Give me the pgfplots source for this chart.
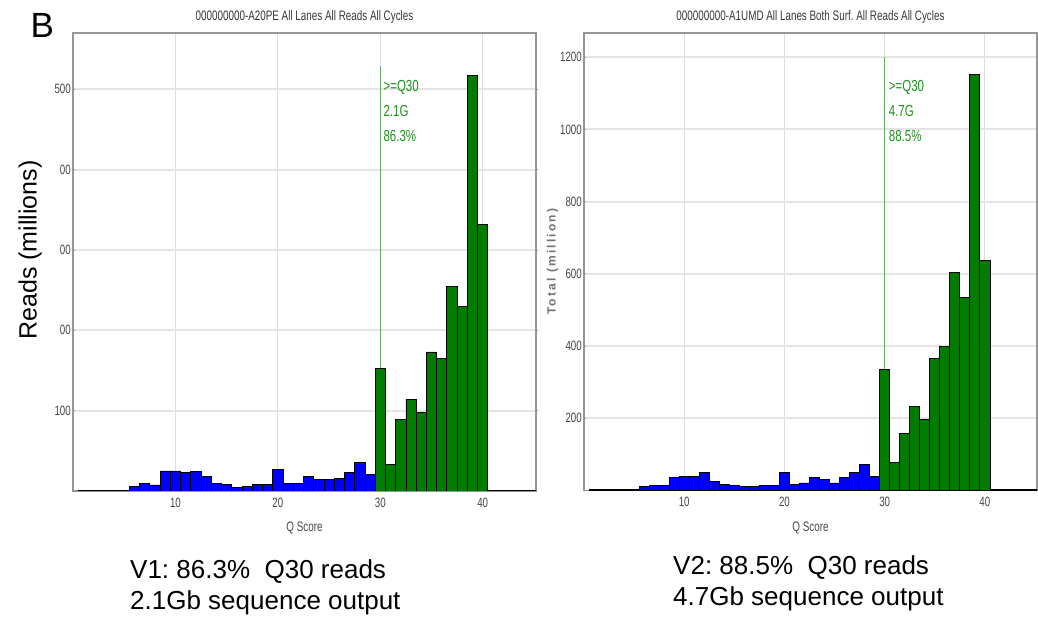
\documentclass[border=0pt]{standalone}
\usepackage{fontspec}
\setmainfont{Liberation Sans}
\newfontfamily\narrowfont[FakeStretch=0.72]{Liberation Sans}
\newfontfamily\spacedfont[LetterSpace=18]{Liberation Sans}
\usepackage{pgfplots}
\pgfplotsset{compat=1.18}
\frenchspacing

\definecolor{qblue}{RGB}{0,0,255}
\definecolor{qgreen}{RGB}{0,125,0}
\definecolor{qtext}{RGB}{30,145,30}
\definecolor{qline}{RGB}{95,175,95}
\definecolor{framegray}{RGB}{150,150,150}
\definecolor{gridx}{RGB}{222,222,222}
\definecolor{gridy}{RGB}{228,228,228}
\definecolor{labelgray}{RGB}{70,70,70}
\definecolor{titlegray}{RGB}{55,55,55}
\definecolor{axlabgray}{RGB}{115,115,115}

\newcommand{\tickfont}{\narrowfont\fontsize{13.5}{15}\selectfont}
\newcommand{\titlefont}{\narrowfont\fontsize{13.7}{15}\selectfont}
\newcommand{\annofont}{\narrowfont\fontsize{16}{18}\selectfont}

\tikzset{
  q30text/.style={anchor=base west, inner sep=0pt, font=\annofont, text=qtext},
  note/.style={anchor=base west, inner sep=0pt, font=\fontsize{26}{30}\selectfont},
}

\pgfplotsset{
  qhist/.style={
    scale only axis,
    anchor=south west,
    xmin=0, xmax=45.2, ymin=0,
    xtick={10,20,30,40},
    xmajorgrids, ymajorgrids,
    x grid style={draw=gridx, line width=0.8pt},
    y grid style={draw=gridy, line width=2pt},
    axis line style={draw=framegray, line width=1.5pt},
    xtick style={draw=none},
    ytick style={draw=framegray, line width=0.8pt},
    tick align=center, major tick length=3pt,
    /pgf/number format/assume math mode=true,
    /pgf/number format/1000 sep={},
    tick label style={font=\tickfont, text=labelgray},
    xticklabel style={anchor=north, inner sep=0pt, yshift=-5pt},
    yticklabel style={anchor=east, inner sep=0pt, xshift=-0.5pt},
    title style={font=\titlefont, text=titlegray, at={(0.5,1)}, anchor=base, yshift=6.3pt},
    xlabel style={font=\titlefont, text=labelgray, at={(0.5,0)}, anchor=base, yshift=-40.7pt},
  },
  lowbar/.style={ybar, bar width=1, bar shift=0pt, fill=qblue, draw=black, line width=0.8pt},
  highbar/.style={ybar, bar width=1, bar shift=0pt, fill=qgreen, draw=black, line width=0.8pt},
  q30mark/.style={draw=qline, line width=0.9pt},
}

\begin{document}
\begin{tikzpicture}
\path[use as bounding box] (0,0) rectangle (1038pt,620pt);

\node[anchor=base west, inner sep=0pt, font=\fontsize{35}{40}\selectfont] at (30.5pt,582pt) {B};

% V1 run
\begin{axis}[qhist,
  at={(73pt,129pt)}, width=463pt, height=458pt,
  ymax=570,
  ytick={100,200,300,400,500},
  yticklabels={100,00,00,00,500},
  title={000000000-A20PE All Lanes All Reads All Cycles},
  xlabel={Q Score},
  ylabel={Reads (millions)},
  ylabel style={font=\fontsize{25}{30}\selectfont, text=black,
    at={(axis description cs:-0.0784,0.526)}, anchor=base},
]
\addplot[q30mark] coordinates {(30,0) (30,529)};
\addplot[lowbar] coordinates {
  (1,1) (2,1) (3,1) (4,1) (5,1) (6,6) (7,9.5) (8,7.5) (9,25) (10,25)
  (11,23) (12,24.5) (13,18) (14,9.5) (15,8) (16,4) (17,6) (18,8) (19,8) (20,27)
  (21,9.5) (22,9.5) (23,18) (24,14) (25,14) (26,16) (27,23) (28,36) (29,21)
};
\addplot[highbar] coordinates {
  (30,152) (31,33) (32,89) (33,114) (34,98) (35,173) (36,165) (37,255)
  (38,230) (39,517) (40,332) (41,1) (42,1) (43,1) (44,1) (45,1)
};
\node[q30text] at (axis cs:30.3,497) {>=Q30};
\node[q30text] at (axis cs:30.3,466) {2.1G};
\node[q30text] at (axis cs:30.3,435) {86.3\%};
\end{axis}

% V2 run
\begin{axis}[qhist,
  at={(584pt,129.5pt)}, width=453pt, height=457.5pt,
  ymax=1267,
  ytick={200,400,600,800,1000,1200},
  title={000000000-A1UMD All Lanes Both Surf. All Reads All Cycles},
  xlabel={Q Score},
  ylabel={\bfseries Total (million)},
  ylabel style={font=\spacedfont\fontsize{12}{14}\selectfont, text=axlabgray,
    at={(axis description cs:-0.0629,0.5)}, anchor=base},
]
\addplot[q30mark] coordinates {(30,0) (30,1201)};
\addplot[lowbar] coordinates {
  (1,2) (2,2) (3,2) (4,2) (5,2) (6,10) (7,15) (8,15) (9,37) (10,39)
  (11,39) (12,51) (13,26) (14,17) (15,14) (16,10) (17,10) (18,15) (19,14) (20,51)
  (21,17) (22,21) (23,36) (24,30) (25,21) (26,36) (27,51) (28,72) (29,39)
};
\addplot[highbar] coordinates {
  (30,336) (31,77) (32,158) (33,233) (34,196) (35,366) (36,399) (37,605)
  (38,535) (39,1151) (40,638) (41,2) (42,2) (43,2) (44,2) (45,2)
};
\node[q30text] at (axis cs:30.4,1104) {>=Q30};
\node[q30text] at (axis cs:30.4,1035) {4.7G};
\node[q30text] at (axis cs:30.4,966) {88.5\%};
\end{axis}

\node[note] at (130pt,41pt) {V1: 86.3\%~~Q30 reads};
\node[note] at (130pt,10pt) {2.1Gb sequence output};
\node[note] at (673pt,45pt) {V2: 88.5\%~~Q30 reads};
\node[note] at (673pt,14pt) {4.7Gb sequence output};
\end{tikzpicture}
\end{document}
